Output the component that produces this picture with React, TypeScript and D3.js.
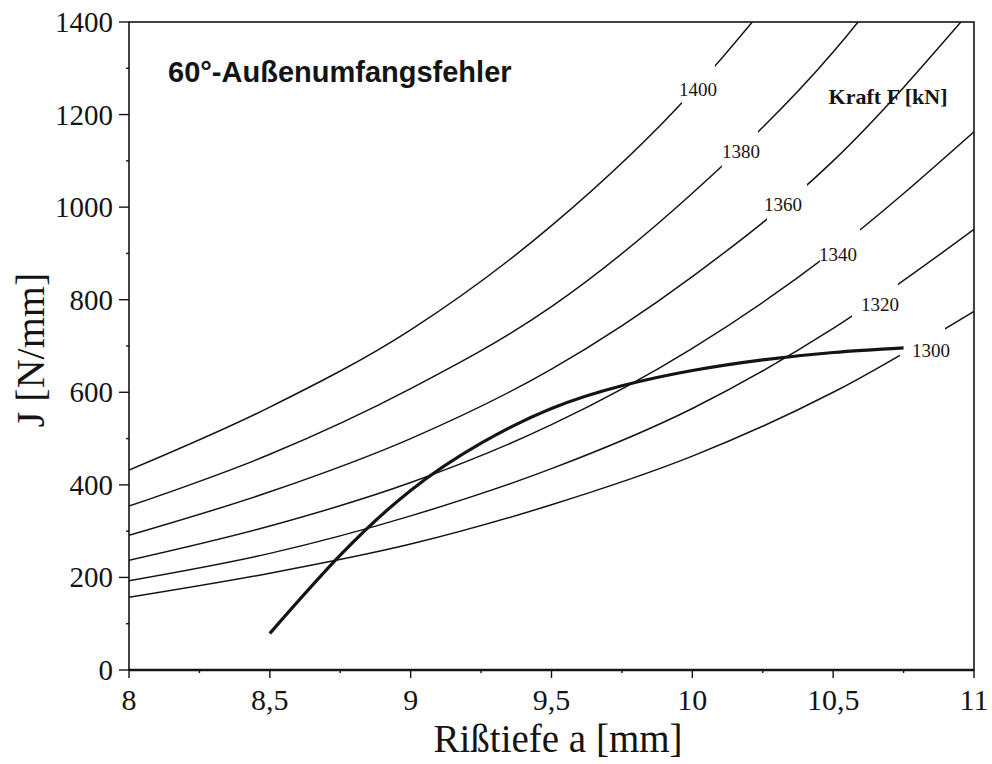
import React from "react";
import * as d3 from "d3";

// ---- data ----
const A = [8, 8.5, 9, 9.5, 10, 10.5, 11];
const J1300 = [157, 209, 272, 357, 462, 600, 775];
const J1320 = [193, 252, 333, 435, 565, 738, 952];
const J1340 = [237, 311, 405, 530, 695, 905, 1163];
const J1360 = [291, 385, 500, 650, 850, 1100, 1433];
const J1380 = [354, 466, 608, 785, 1030, 1335, 1740];
const J1400 = [432, 568, 735, 960, 1250, 1630, 2120];
const forces = [1300, 1320, 1340, 1360, 1380, 1400];
const forceSeries = [J1300, J1320, J1340, J1360, J1380, J1400];

const Ra = [8.5, 8.75, 9.0, 9.25, 9.5, 9.75, 10.0, 10.25, 10.5, 10.75];
const RJ = [79, 248, 388, 490, 565, 614, 647, 670, 686, 696];

const xTicks = [8, 8.5, 9, 9.5, 10, 10.5, 11];
const xMinor = [8.25, 8.75, 9.25, 9.75, 10.25, 10.75];
const yTicks = [0, 200, 400, 600, 800, 1000, 1200, 1400];
const yMinor = [100, 300, 500, 700, 900, 1100, 1300];

const title = "60°-Außenumfangsfehler";
const legendTitle = "Kraft F [kN]";
const xLabel = "Rißtiefe a [mm]";
const yLabel = "J [N/mm]";

// label placement for each force curve (a, J) and gap range in a
const labelPos: Record<number, [number, number]> = {
  1400: [10.02, 1255],
  1380: [10.173, 1121],
  1360: [10.322, 1005],
  1340: [10.517, 897],
  1320: [10.666, 789],
  1300: [10.847, 691],
};
const gaps: Record<number, [number, number]> = {
  1400: [9.963, 10.08],
  1380: [10.105, 10.233],
  1360: [10.265, 10.407],
  1340: [10.453, 10.595],
  1320: [10.567, 10.73],
  1300: [10.737, 10.897],
};

const W = 992;
const H = 764;
const L = 129, R = 974, T = 22, B = 670;

export default function App() {
  const x = d3.scaleLinear().domain([8, 11]).range([L, R]);
  const y = d3.scaleLinear().domain([0, 1400]).range([B, T]);
  const line = d3
    .line<[number, number]>()
    .x((d) => x(d[0]))
    .y((d) => y(d[1]))
    .curve(d3.curveMonotoneX);
  const smooth = d3
    .line<[number, number]>()
    .x((d) => x(d[0]))
    .y((d) => y(d[1]))
    .curve(d3.curveNatural);

  const serif = "'Liberation Serif', 'Times New Roman', serif";
  const sans = "'Liberation Sans', Arial, sans-serif";
  const fmt = (v: number) => String(v).replace(".", ",");
  const ink = "#141414";

  return (
    <svg
      width={W}
      height={H}
      style={{ position: "absolute", left: 0, top: 0, background: "#fff" }}
    >
      <defs>
        <clipPath id="plot">
          <rect x={L} y={T} width={R - L} height={B - T} />
        </clipPath>
        {forces.map((f) => (
          <mask id={`gap${f}`} key={f} maskUnits="userSpaceOnUse" x={0} y={0} width={W} height={H}>
            <rect x={0} y={0} width={W} height={H} fill="#fff" />
            <rect
              x={x(gaps[f][0])}
              y={0}
              width={x(gaps[f][1]) - x(gaps[f][0])}
              height={H}
              fill="#000"
            />
          </mask>
        ))}
      </defs>

      {/* force curves */}
      <g clipPath="url(#plot)">
        {forces.map((f, i) => (
          <g mask={`url(#gap${f})`} key={f}>
            <path
              d={line(A.map((a, k) => [a, forceSeries[i][k]]) as [number, number][]) || ""}
              fill="none"
              stroke={ink}
              strokeWidth={1.5}
            />
          </g>
        ))}
        <path
          d={smooth(Ra.map((a, k) => [a, RJ[k]]) as [number, number][]) || ""}
          fill="none"
          stroke={ink}
          strokeWidth={3.2}
          strokeLinecap="butt"
        />
      </g>

      {/* curve labels */}
      {forces.map((f) => (
        <text
          key={f}
          x={x(labelPos[f][0])}
          y={y(labelPos[f][1])}
          textAnchor="middle"
          dominantBaseline="central"
          fontFamily={serif}
          fontSize={19}
          fill={ink}
        >
          {f}
        </text>
      ))}
      <text
        x={x(10.695)}
        y={y(1240)}
        textAnchor="middle"
        dominantBaseline="central"
        fontFamily={serif}
        fontWeight="bold"
        fontSize={22}
        fill={ink}
      >
        {legendTitle}
      </text>

      {/* title */}
      <text x={168} y={82} fontFamily={sans} fontWeight="bold" fontSize={29} fill={ink}>
        {title}
      </text>

      {/* frame */}
      <rect x={L} y={T} width={R - L} height={B - T} fill="none" stroke={ink} strokeWidth={1.6} />
      <line x1={L} x2={R} y1={B} y2={B} stroke={ink} strokeWidth={2.4} />

      {/* y ticks */}
      {yTicks.map((v) => (
        <g key={"y" + v}>
          <line x1={L - 10} x2={L} y1={y(v)} y2={y(v)} stroke={ink} strokeWidth={1.4} />
          <text
            x={L - 16}
            y={y(v)}
            textAnchor="end"
            dominantBaseline="central"
            fontFamily={serif}
            fontSize={29}
            fill={ink}
          >
            {v}
          </text>
        </g>
      ))}
      {yMinor.map((v) => (
        <line key={"ym" + v} x1={L - 3} x2={L} y1={y(v)} y2={y(v)} stroke={ink} strokeWidth={1.4} />
      ))}

      {/* x ticks */}
      {xTicks.map((v) => (
        <g key={"x" + v}>
          <line x1={x(v)} x2={x(v)} y1={B} y2={B + 8} stroke={ink} strokeWidth={1.4} />
          <text
            x={x(v)}
            y={710}
            textAnchor="middle"
            fontFamily={serif}
            fontSize={30}
            fill={ink}
          >
            {fmt(v)}
          </text>
        </g>
      ))}
      {xMinor.map((v) => (
        <line key={"xm" + v} x1={x(v)} x2={x(v)} y1={B} y2={B + 3} stroke={ink} strokeWidth={1.4} />
      ))}

      {/* axis titles */}
      <text
        x={558}
        y={752}
        textAnchor="middle"
        fontFamily={serif}
        fontSize={39}
        fill={ink}
      >
        {xLabel}
      </text>
      <text
        transform={`translate(44, 350) rotate(-90)`}
        textAnchor="middle"
        fontFamily={serif}
        fontSize={40}
        fill={ink}
      >
        {yLabel}
      </text>
    </svg>
  );
}
